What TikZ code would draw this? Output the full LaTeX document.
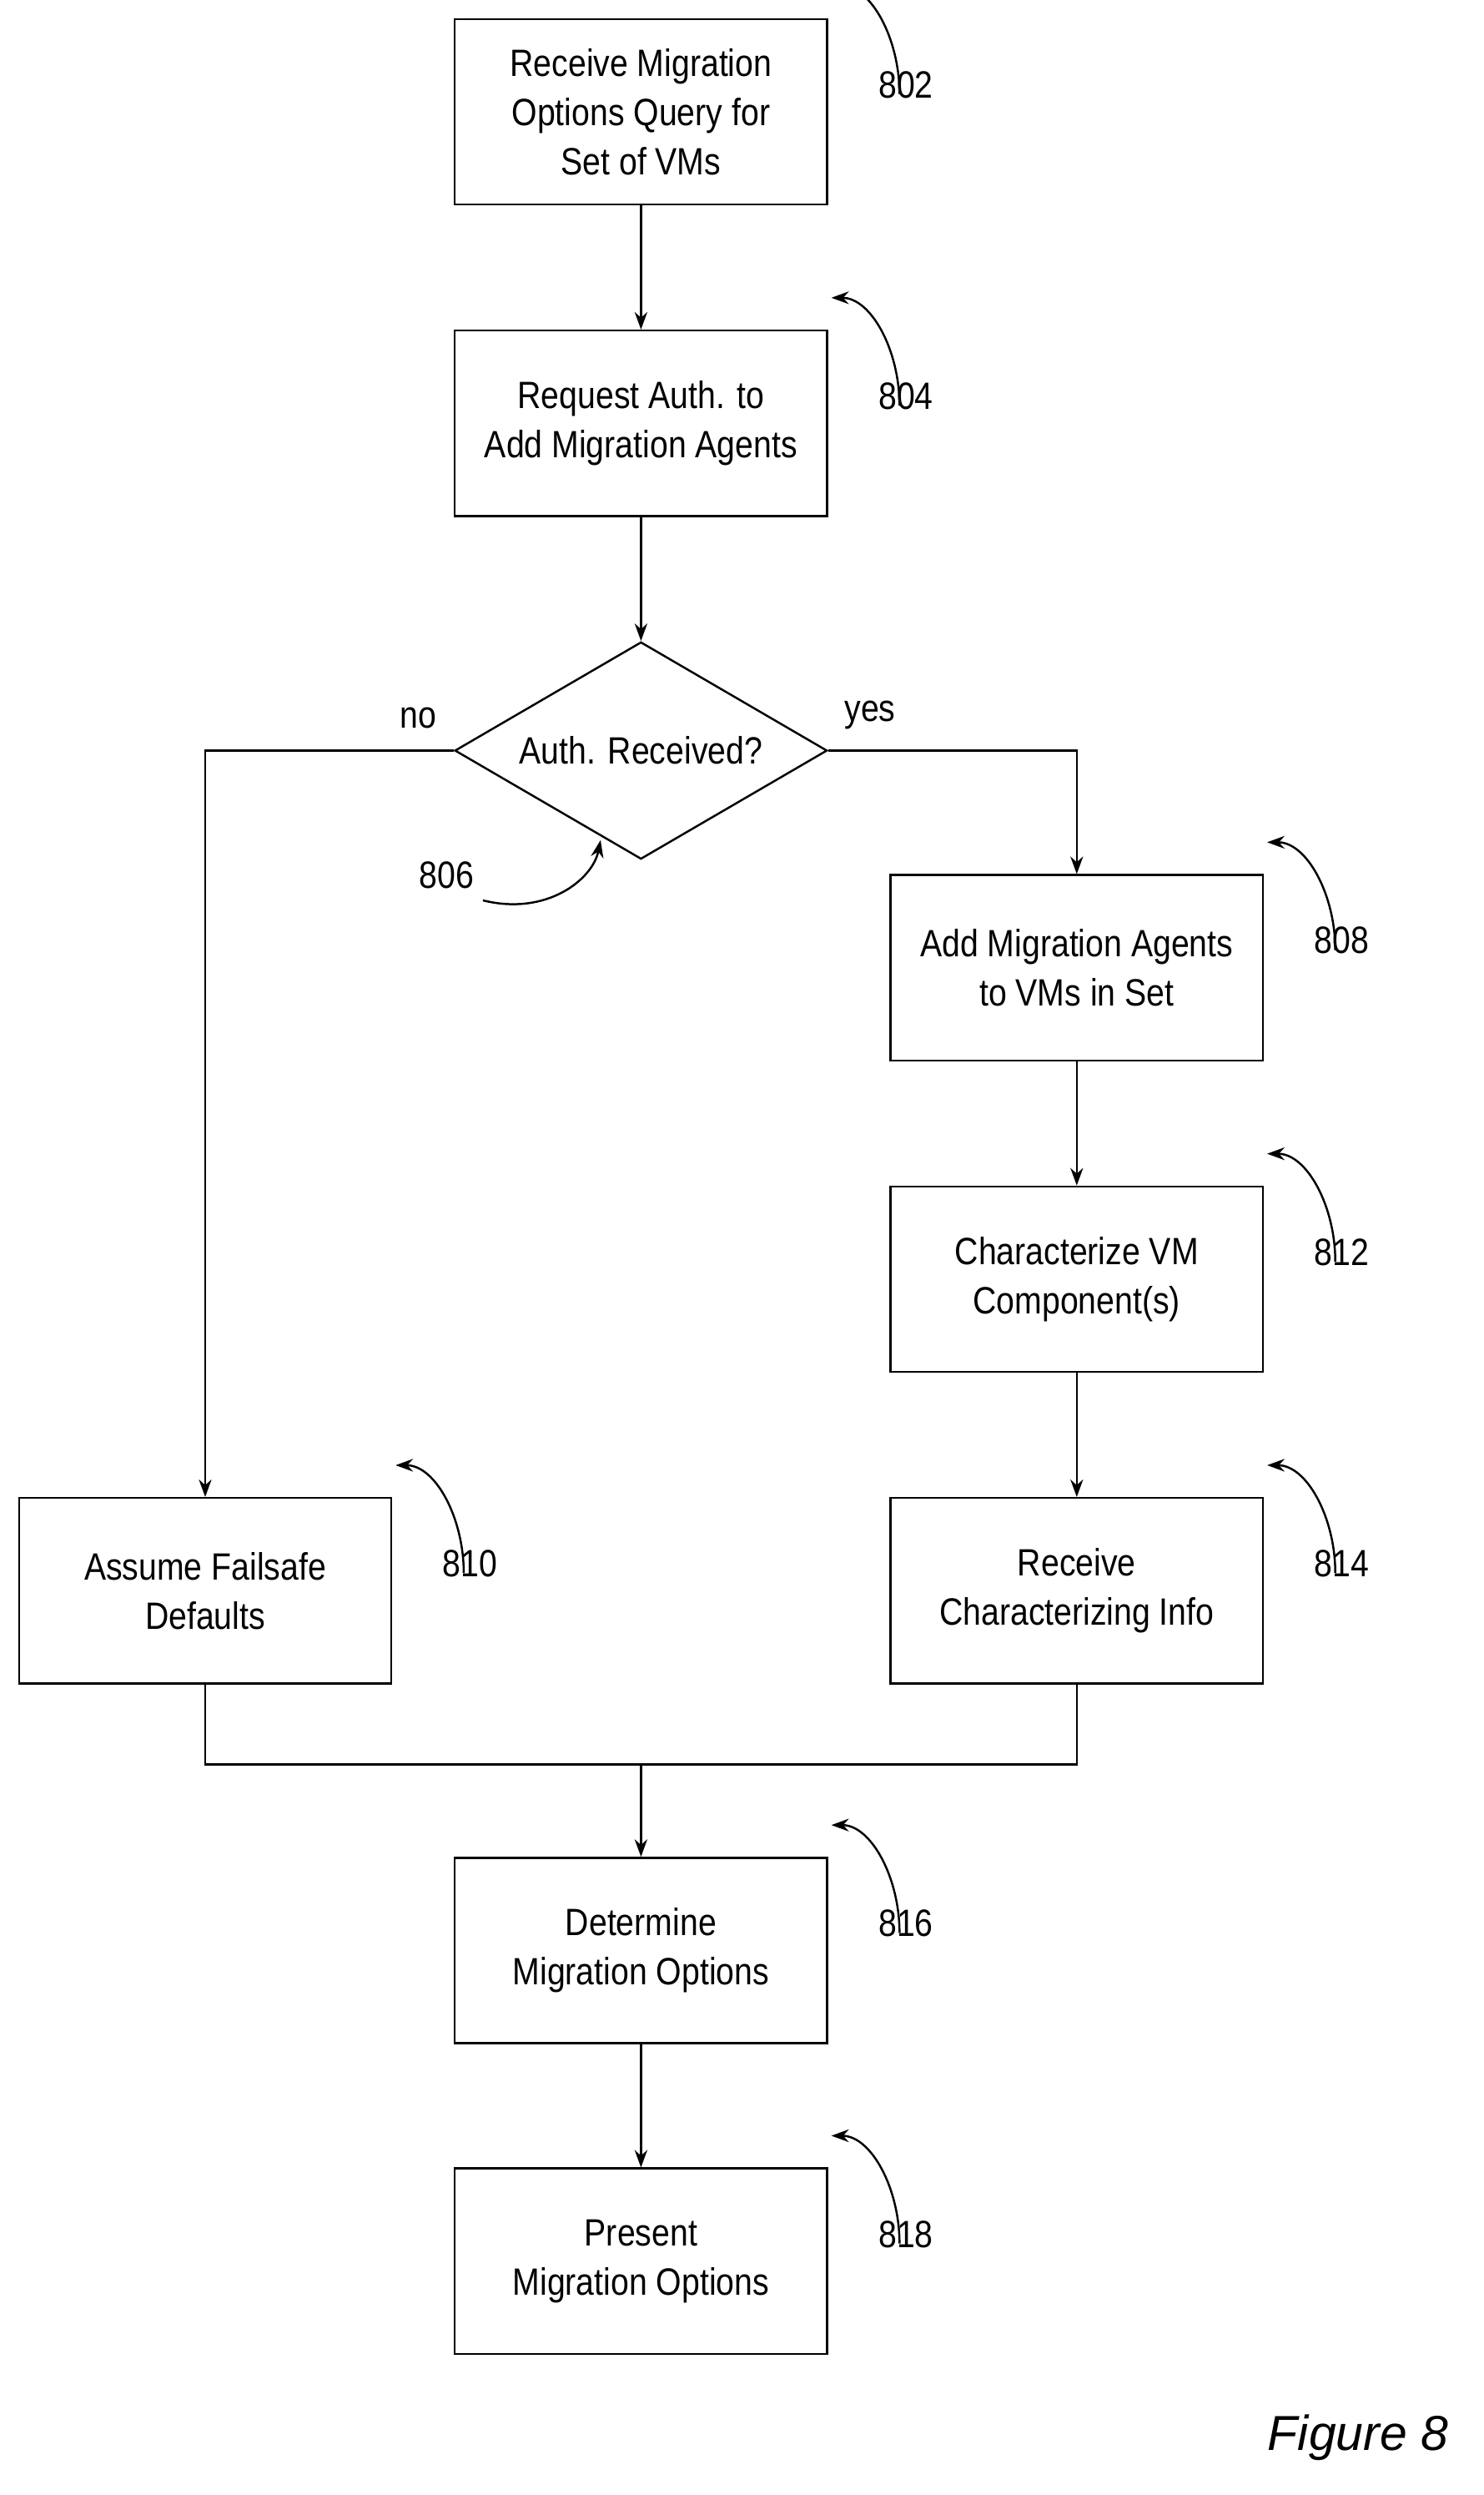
\documentclass[tikz,border=0pt]{standalone}
\usepackage{fontspec}
\setmainfont{Liberation Sans}[FakeStretch=0.86]
\newfontfamily\capfont{Liberation Sans}
\usetikzlibrary{shapes.geometric,arrows.meta}
\begin{document}
\begin{tikzpicture}[x=1pt,y=-1pt,
  box/.style={draw,line width=1.3pt,minimum width=235pt,minimum height=117pt,align=center,font=\fontsize{24}{31}\selectfont,inner sep=0},
  dia/.style={draw,line width=1.3pt,diamond,aspect=1.71,minimum width=235pt,minimum height=137pt,inner sep=0,font=\fontsize{24}{31}\selectfont},
  arr/.style={line width=1.3pt,-{Stealth[length=11pt,width=8pt]}},
  ln/.style={line width=1.3pt},
  ref/.style={font=\fontsize{24}{28}\selectfont},
  lbl/.style={font=\fontsize{24}{28}\selectfont}]
\useasboundingbox (0,0) rectangle (936,1574);
\node[box] (b802) at (404.5,70.5) {Receive Migration\\Options Query for\\Set of VMs};
\node[box] (b804) at (404.5,267) {Request Auth. to\\Add Migration Agents};
\node[dia] (d806) at (404.5,473.5) {Auth. Received?};
\node[box] (b808) at (679.5,610.5) {Add Migration Agents\\to VMs in Set};
\node[box] (b812) at (679.5,807) {Characterize VM\\Component(s)};
\node[box] (b814) at (679.5,1003.5) {Receive\\Characterizing Info};
\node[box] (b810) at (129.5,1003.5) {Assume Failsafe\\Defaults};
\node[box] (b816) at (404.5,1230.5) {Determine\\Migration Options};
\node[box] (b818) at (404.5,1426.5) {Present\\Migration Options};
\coordinate (m) at (404.5,1113);
\draw[arr] (b802) -- (b804);
\draw[arr] (b804) -- (d806);
\draw[arr] (d806.east) -| (b808.north);
\draw[arr] (d806.west) -| (b810.north);
\draw[arr] (b808) -- (b812);
\draw[arr] (b812) -- (b814);
\draw[ln] (b810.south) |- (m) -| (b814.south);
\draw[arr] (m) -- (b816);
\draw[arr] (b816) -- (b818);
\node[lbl] (no) at (264,453) {no};
\node[lbl] (yes) at (549,451) {yes};
\foreach \b/\n in {b802/802,b804/804,b808/808,b812/812,b814/814,b810/810,b816/816,b818/818}{
  \node[ref,anchor=north] (r\n) at ([xshift=49pt,yshift=-30pt]\b.north east) {\n};
  \draw[arr] ([xshift=-4pt,yshift=-18pt]r\n.north) .. controls +(0,-35) and +(25,0) .. ([xshift=2pt,yshift=20pt]\b.north east);
}
\node[ref] (r806) at (282,552) {806};
\draw[arr] (r806.east) ++(2,16) .. controls +(40,10) and +(-5,25) .. (379,530);
\node[font=\capfont\itshape\fontsize{31}{36}\selectfont] (fig) at (857,1538) {Figure 8};
\end{tikzpicture}
\end{document}
